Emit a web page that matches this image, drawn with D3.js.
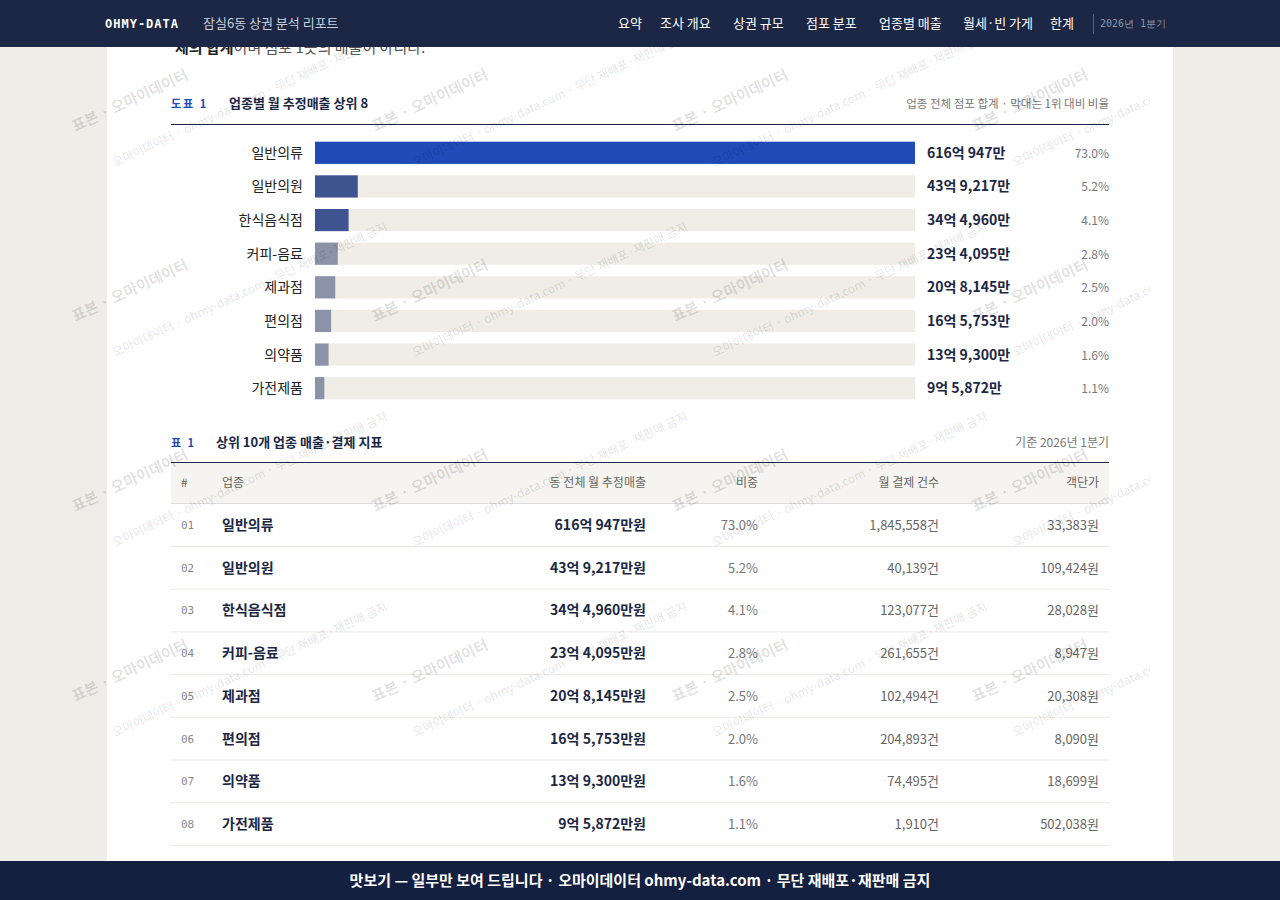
<!DOCTYPE html>
<html><head><meta charset="utf-8">
<script src="https://cdn.jsdelivr.net/npm/d3@7/dist/d3.min.js"></script>
<style>body{margin:0;background:#efede8;overflow:hidden}svg{display:block}</style>
</head><body><svg id="c" width="1280" height="900"></svg>
<script>
const categories=["일반의류","일반의원","한식음식점","커피-음료","제과점","편의점","의약품","가전제품"];
const salesEok=[616,43,34,23,20,16,13,9];
const salesMan=[947,9217,4960,4095,8145,5753,9300,5872];
const shares=[73.0,5.2,4.1,2.8,2.5,2.0,1.6,1.1];
const counts=[1845558,40139,123077,261655,102494,204893,74495,1910];
const perTicket=[33383,109424,28028,8947,20308,8090,18699,502038];
const navItems=["요약","조사 개요","상권 규모","점포 분포","업종별 매출","월세·빈 가게","한계"];
const F="'Noto Sans CJK KR','Noto Sans',sans-serif";
const svg=d3.select("#c");
const fmt=d3.format(",");
const total=categories.map((c,i)=>salesEok[i]*10000+salesMan[i]);
const label=i=>`${salesEok[i]}억 ${fmt(salesMan[i])}만`;
svg.append("defs").append("clipPath").attr("id","pg").append("rect").attr("x",0).attr("y",0).attr("width",1150).attr("height",900);
svg.append("rect").attr("x",107).attr("y",0).attr("width",1066).attr("height",900).attr("fill","#fff");
svg.append("text").attr("x",175).attr("y",53).attr("font-family",F).attr("font-size",15).attr("fill","#555")
 .html('<tspan font-weight="700" fill="#222">체의 합계</tspan>이며 점포 1곳의 매출이 아니다.');
const g=svg.append("g").attr("font-family",F);
g.append("text").attr("x",171).attr("y",108).attr("font-size",11).attr("fill","#1f4ab8").attr("font-weight",700).attr("letter-spacing",2).text("도표 1");
g.append("text").attr("x",229).attr("y",108).attr("font-size",13).attr("fill","#1b2744").attr("font-weight",700).text("업종별 월 추정매출 상위 8");
g.append("text").attr("x",1109).attr("y",108).attr("font-size",11.5).attr("fill","#777").attr("text-anchor","end").text("업종 전체 점포 합계 · 막대는 1위 대비 비율");
g.append("line").attr("x1",171).attr("x2",1109).attr("y1",124.5).attr("y2",124.5).attr("stroke","#1b2744").attr("stroke-width",1.2);
const y=d3.scaleBand().domain(categories).range([136,405]).paddingInner(0.34).paddingOuter(0.17);
const x=d3.scaleLinear().domain([0,d3.max(total)]).range([315,915]);
const col=i=>i==0?"#1f4ab8":i<3?"#3d5490":"#8a93a8";
categories.forEach((c,i)=>{
 const yy=y(c),h=y.bandwidth(),cy=yy+h/2;
 g.append("rect").attr("x",315).attr("y",yy).attr("width",600).attr("height",h).attr("fill","#efede6");
 g.append("rect").attr("x",315).attr("y",yy).attr("width",x(total[i])-315).attr("height",h).attr("fill",col(i));
 g.append("text").attr("x",303).attr("y",cy+5).attr("text-anchor","end").attr("font-size",14).attr("fill","#222").text(c);
 g.append("text").attr("x",927).attr("y",cy+5).attr("font-size",14).attr("font-weight",700).attr("fill","#1b2744").text(label(i));
 g.append("text").attr("x",1109).attr("y",cy+5).attr("text-anchor","end").attr("font-size",12).attr("fill","#777").text(shares[i].toFixed(1)+"%");
});
g.append("text").attr("x",171).attr("y",447).attr("font-size",11).attr("fill","#1f4ab8").attr("font-weight",700).attr("letter-spacing",2).text("표 1");
g.append("text").attr("x",216).attr("y",447).attr("font-size",13).attr("fill","#1b2744").attr("font-weight",700).text("상위 10개 업종 매출·결제 지표");
g.append("text").attr("x",1109).attr("y",447).attr("font-size",12).attr("fill","#777").attr("text-anchor","end").text("기준 2026년 1분기");
g.append("rect").attr("x",171).attr("y",463).attr("width",938).attr("height",40).attr("fill","#f5f4f0");
g.append("line").attr("x1",171).attr("x2",1109).attr("y1",462.5).attr("y2",462.5).attr("stroke","#1b2744").attr("stroke-width",1.2);
g.append("line").attr("x1",171).attr("x2",1109).attr("y1",503.5).attr("y2",503.5).attr("stroke","#ddd");
const cols=[[181,"start","#"],[222,"start","업종"],[646,"end","동 전체 월 추정매출"],[758,"end","비중"],[939,"end","월 결제 건수"],[1099,"end","객단가"]];
cols.forEach(c=>g.append("text").attr("x",c[0]).attr("y",487).attr("text-anchor",c[1]).attr("font-size",12).attr("fill","#666").text(c[2]));
const ry=d3.scaleLinear().domain([0,1]).range([525,567.7]);
categories.forEach((c,i)=>{
 const cy=ry(i);
 g.append("line").attr("x1",171).attr("x2",1109).attr("y1",cy+21.5).attr("y2",cy+21.5).attr("stroke","#ebe9e4");
 g.append("text").attr("x",181).attr("y",cy+4).attr("font-size",11).attr("fill","#888").attr("font-family","'DejaVu Sans Mono',monospace").text(String(i+1).padStart(2,"0"));
 g.append("text").attr("x",222).attr("y",cy+5).attr("font-size",14).attr("fill","#1b2744").attr("font-weight",600).text(c);
 g.append("text").attr("x",646).attr("y",cy+5).attr("text-anchor","end").attr("font-size",14).attr("fill","#1b2744").attr("font-weight",700).text(label(i)+"원");
 g.append("text").attr("x",758).attr("y",cy+5).attr("text-anchor","end").attr("font-size",13).attr("fill","#777").text(shares[i].toFixed(1)+"%");
 g.append("text").attr("x",939).attr("y",cy+5).attr("text-anchor","end").attr("font-size",13).attr("fill","#666").text(fmt(counts[i])+"건");
 g.append("text").attr("x",1099).attr("y",cy+5).attr("text-anchor","end").attr("font-size",13).attr("fill","#666").text(fmt(perTicket[i])+"원");
});
const wm=svg.append("g").attr("clip-path","url(#pg)").attr("font-family",F).attr("fill","#000").attr("fill-opacity",0.12).attr("font-size",15).attr("font-weight",700);
for(let r=0;r<4;r++)for(let k=0;k<4;k++){
 const bx=75+k*300,by=132+r*190;
 wm.append("text").attr("transform",`translate(${bx},${by}) rotate(-25)`).text("표본 · 오마이데이터");
 wm.append("text").attr("transform",`translate(${bx+40},${by+35}) rotate(-25)`).attr("font-size",12).attr("font-weight",400).text("오마이데이터 · ohmy-data.com · 무단 재배포·재판매 금지");
}
svg.append("rect").attr("width",1280).attr("height",47).attr("fill","#1b2744");
svg.append("text").attr("x",105).attr("y",28).attr("font-family","'DejaVu Sans Mono',monospace").attr("font-weight",700).attr("font-size",12).attr("fill","#fff").attr("letter-spacing",1).text("OHMY-DATA");
svg.append("text").attr("x",203).attr("y",28).attr("font-family",F).attr("font-size",13).attr("fill","#c9cfdc").text("잠실6동 상권 분석 리포트");
const navX=[618,660,733,806,879,963,1050];
navItems.forEach((t,i)=>svg.append("text").attr("x",navX[i]).attr("y",28).attr("font-family",F).attr("font-size",13).attr("fill","#fff").text(t));
svg.append("line").attr("x1",1093.5).attr("x2",1093.5).attr("y1",14).attr("y2",34).attr("stroke","#55607a");
svg.append("text").attr("x",1100).attr("y",27).attr("font-family","'DejaVu Sans Mono',monospace").attr("font-size",10).attr("fill","#8d96ab").text("2026년 1분기");
svg.append("rect").attr("y",861).attr("width",1280).attr("height",39).attr("fill","#142040");
svg.append("text").attr("x",640).attr("y",886).attr("text-anchor","middle").attr("font-family",F).attr("font-size",15).attr("font-weight",700).attr("fill","#fff").text("맛보기 — 일부만 보여 드립니다 · 오마이데이터 ohmy-data.com · 무단 재배포·재판매 금지");
</script></body></html>
